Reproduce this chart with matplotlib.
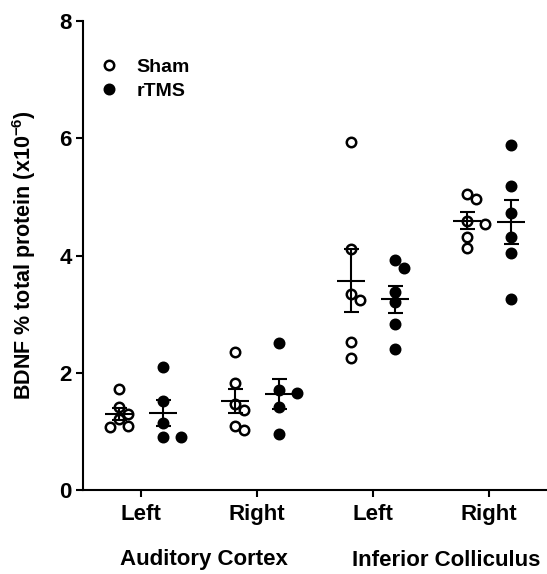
import numpy as np
import matplotlib
matplotlib.use("Agg")
import matplotlib.pyplot as plt
from matplotlib.lines import Line2D

# BDNF levels
sides = ["Left", "Right", "Left", "Right"]
areas = ["Auditory Cortex", "Inferior Colliculus"]
groups = ["Sham", "rTMS"]

sham = [
    [1.72, 1.41, 1.29, 1.21, 1.09, 1.08],
    [2.35, 1.82, 1.46, 1.36, 1.09, 1.02],
    [5.94, 4.11, 3.35, 3.24, 2.53, 2.26],
    [5.05, 4.96, 4.58, 4.53, 4.31, 4.12],
]
rtms = [
    [2.10, 1.51, 1.14, 0.91, 0.91],
    [2.51, 1.70, 1.65, 1.41, 0.95],
    [3.92, 3.78, 3.38, 3.21, 2.83, 2.40],
    [5.89, 5.19, 4.73, 4.31, 4.05, 3.26],
]

plt.rcParams["font.family"] = ["Liberation Sans", "DejaVu Sans"]
plt.rcParams["font.weight"] = "bold"
plt.rcParams["axes.labelweight"] = "bold"
plt.rcParams["mathtext.fontset"] = "custom"
plt.rcParams["mathtext.rm"] = "Liberation Sans:bold"
plt.rcParams["mathtext.bf"] = "Liberation Sans:bold"
plt.rcParams["mathtext.default"] = "bf"

FS = 16
LW = 1.5
MS = 6.8
MEW = 1.8

fig = plt.figure(figsize=(5.47, 5.74), dpi=100)
ax = fig.add_axes([83 / 547, 1 - 490 / 574, 464 / 547, 469 / 574])
ax.set_xlim(-0.5, 3.5)
ax.set_ylim(0, 8)


def swarm(x0, vals, diam=12.0):
    # simple column scatter: nudge points sideways when they would overlap
    t = ax.transData
    px_per_x = t.transform((1, 0))[0] - t.transform((0, 0))[0]
    step = 0.75 * diam
    placed = []
    cands = [0]
    for j in range(1, 6):
        cands += [j, -j]
    order = np.argsort(vals)[::-1]
    out = np.zeros(len(vals))
    for i in order:
        py = t.transform((x0, vals[i]))[1]
        for c in cands:
            dx = c * step
            if all(np.hypot(dx - qx, py - qy) >= 0.8 * diam for qx, qy in placed):
                break
        placed.append((dx, py))
        out[i] = x0 + dx / px_per_x
    return out


off = 0.19
for i in range(len(sides)):
    for vals, dx, face in [(sham[i], -off, "none"), (rtms[i], off, "black")]:
        vals = np.array(vals)
        xc = i + dx
        xs = swarm(xc, vals)
        ax.plot(xs, vals, "o", ms=MS, mfc=face, mec="black", mew=MEW,
                linestyle="none", zorder=2)
        m = vals.mean()
        sem = vals.std(ddof=1) / np.sqrt(len(vals))
        ax.hlines(m, xc - 0.12, xc + 0.12, color="black", lw=LW, zorder=3)
        ax.errorbar(xc, m, yerr=sem, fmt="none", ecolor="black", elinewidth=LW,
                    capsize=5.4, capthick=LW, zorder=3)

ax.spines["top"].set_visible(False)
ax.spines["right"].set_visible(False)
for s in ["left", "bottom"]:
    ax.spines[s].set_linewidth(LW)

ax.set_yticks([0, 2, 4, 6, 8])
ax.set_xticks(range(len(sides)))
ax.set_xticklabels(sides)
ax.tick_params(axis="y", length=5, width=LW, pad=3, labelsize=FS)
ax.tick_params(axis="x", length=5, width=LW, pad=5, labelsize=FS)

ax.set_ylabel(r"BDNF % total protein (x10$^{-6}$)", fontsize=15.5, fontweight="bold")
ax.yaxis.set_label_coords((38 - 83) / 464, 0.5)

fig.text(204 / 547, 1 - 560 / 574, areas[0], fontsize=FS, ha="center", va="center")
fig.text(446 / 547, 1 - 560 / 574, areas[1], fontsize=FS, ha="center", va="center")

handles = [
    Line2D([], [], marker="o", ms=MS, mfc="none", mec="black", mew=MEW, ls="none"),
    Line2D([], [], marker="o", ms=MS, mfc="black", mec="black", mew=MEW, ls="none"),
]
ax.legend(handles, groups, loc="upper left", bbox_to_anchor=(0.035, 0.92),
          frameon=False, fontsize=14, handlelength=1.0, handletextpad=0.9,
          labelspacing=0.3, borderpad=0, borderaxespad=0)

fig.savefig("out.png", dpi=100)
